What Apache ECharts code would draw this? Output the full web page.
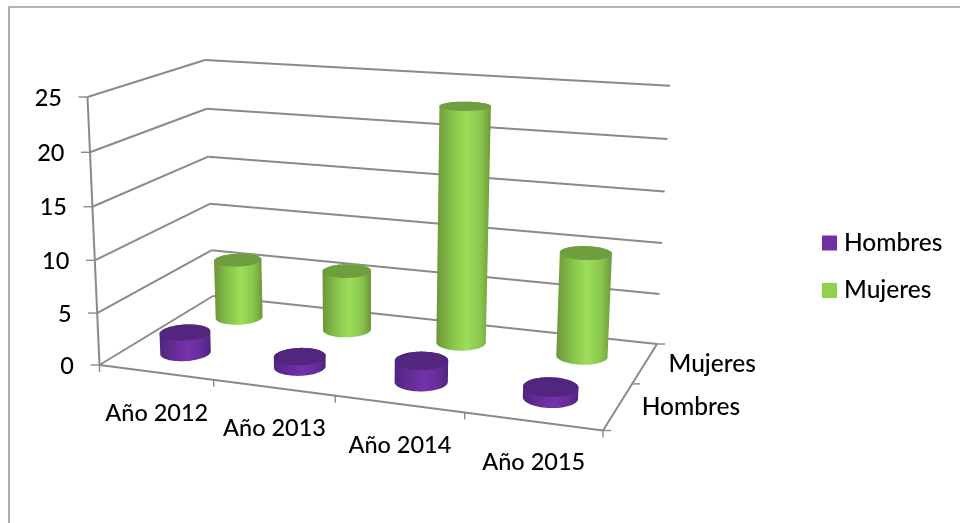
<!DOCTYPE html>
<html><head><meta charset="utf-8">
<style>html,body{margin:0;padding:0;background:#fff}#c{width:960px;height:523px}</style>
<script src="https://cdn.jsdelivr.net/npm/echarts@6/dist/echarts.min.js"></script>
</head><body><div id="c"></div>
<script>
const categories = ['Año 2012','Año 2013','Año 2014','Año 2015'];
const hombres = [2,1,2,1];
const mujeres = [6,6,23,10];
const yTicks = [0,5,10,15,20,25];
const depthLabels = ['Hombres','Mujeres'];

// Camera calibration of the 3D box (floor and ceiling corners, in order FL, FR, BR, BL)
const floorQuad = [[99.5,365],[603,430.5],[657,344],[213,296]];
const topQuad = [[87.5,97],[616,132],[670,85.7],[205,60]];
const K = 1.04, RU = 0.05, RD = 0.105;
const FONT = '500 23.5px Lato', TXT = '#000', LINE = '#8a8a8a';

function homography(q){
  const [x0,y0]=q[0],[x1,y1]=q[1],[x2,y2]=q[2],[x3,y3]=q[3];
  const dx1=x1-x2,dx2=x3-x2,sx=x0-x1+x2-x3,dy1=y1-y2,dy2=y3-y2,sy=y0-y1+y2-y3;
  const den=dx1*dy2-dx2*dy1;
  const g=(sx*dy2-dx2*sy)/den,h=(dx1*sy-sx*dy1)/den;
  const a=x1-x0+g*x1,b=x3-x0+h*x3,c=x0,d=y1-y0+g*y1,e=y3-y0+h*y3,f=y0;
  return (u,v)=>{const w=g*u+h*v+1;return [(a*u+b*v+c)/w,(d*u+e*v+f)/w];};
}
const Hf=homography(floorQuad),Ht=homography(topQuad);
function proj(u,d,h){
  const p=Hf(u,d),q=Ht(u,d),t=h/(K-(K-1)*h);
  return [p[0]+(q[0]-p[0])*t,p[1]+(q[1]-p[1])*t];
}
function hull(pts){
  const s=pts.slice().sort((a,b)=>a[0]-b[0]||a[1]-b[1]);
  const cr=(o,a,b)=>(a[0]-o[0])*(b[1]-o[1])-(a[1]-o[1])*(b[0]-o[0]);
  const lo=[],up=[];
  for(const p of s){while(lo.length>1&&cr(lo[lo.length-2],lo[lo.length-1],p)<=0)lo.pop();lo.push(p);}
  for(const p of s.slice().reverse()){while(up.length>1&&cr(up[up.length-2],up[up.length-1],p)<=0)up.pop();up.push(p);}
  return lo.slice(0,-1).concat(up.slice(0,-1));
}
const line=(a,b,w)=>({type:'line',shape:{x1:a[0],y1:a[1],x2:b[0],y2:b[1]},style:{stroke:LINE,lineWidth:w||2}});
const norm=(params,c)=>({u:(c[0]-params.coordSys.x)/params.coordSys.width,
                         h:(params.coordSys.y+params.coordSys.height-c[1])/params.coordSys.height});

function cylinderRenderer(depth,stops,cap){
  return (params,api)=>{
    const n=norm(params,api.coord([api.value(0),api.value(1)]));
    const top=[],bot=[];
    for(let i=0;i<72;i++){
      const a=i/72*Math.PI*2,u=n.u+RU*Math.cos(a),d=depth+RD*Math.sin(a);
      top.push(proj(u,d,n.h));bot.push(proj(u,d,0));
    }
    const fill=new echarts.graphic.LinearGradient(0,0,1,0,[
      {offset:0,color:stops[0]},{offset:0.3,color:stops[1]},{offset:0.55,color:stops[2]},{offset:0.82,color:stops[1]},{offset:1,color:stops[0]}]);
    return {type:'group',children:[
      {type:'polygon',shape:{points:hull(top.concat(bot))},style:{fill}},
      {type:'polygon',shape:{points:top},style:{fill:cap}}
    ]};
  };
}
const gridSeries={type:'custom',silent:true,data:yTicks.map(v=>[0,v]),
  renderItem(params,api){
    const h=norm(params,api.coord([0,api.value(1)])).h;
    const fl=proj(0,0,h),bl=proj(0,1,h),br=proj(1,1,h);
    return {type:'group',children:[
      line(fl,bl),line(bl,br),line([fl[0]-9,fl[1]],fl,1.4),
      {type:'text',style:{text:String(api.value(1)),x:fl[0]-25.5,y:fl[1]+1,align:'right',verticalAlign:'middle',font:FONT,fill:TXT}}
    ]};
  }};
const frameSeries={type:'custom',silent:true,data:[[0,0]],
  renderItem(){
    const kids=[line(proj(0,0,0),proj(0,0,1)),line(proj(0,0,0),proj(1,0,0)),line(proj(1,0,0),proj(1,1,0))];
    for(const u of [0,.25,.5,.75,1]){const p=proj(u,0,0);kids.push(line(p,[p[0],p[1]+7],1.4));}
    for(const d of [0,.5,1]){const p=proj(1,d,0);kids.push(line(p,[p[0]+8,p[1]],1.4));}
    return {type:'group',children:kids};
  }};
const catSeries={type:'custom',silent:true,data:categories.map((c,i)=>[i,0]),
  renderItem(params,api){
    const i=api.value(0),n=norm(params,api.coord([i,0])),p=proj(n.u,0,0);
    return {type:'text',style:{text:categories[params.dataIndex],x:p[0]+1,y:p[1]+41,align:'center',verticalAlign:'middle',font:FONT,fill:TXT}};
  }};
const depthSeries={type:'custom',silent:true,data:depthLabels.map((c,i)=>[0,0]),
  renderItem(params){
    const i=params.dataIndex,p=proj(1,(i+.5)/depthLabels.length,0);
    return {type:'text',style:{text:depthLabels[i],x:p[0]+23.5,y:p[1]+1,align:'left',verticalAlign:'middle',font:'500 24.5px Lato',fill:TXT}};
  }};
const chart=echarts.init(document.getElementById('c'),null,{renderer:'canvas'});
chart.setOption({
  animation:false,backgroundColor:'#fff',
  grid:{left:100,right:360,top:97,bottom:158},
  xAxis:{type:'category',data:categories,show:false},
  yAxis:{type:'value',min:0,max:25,interval:5,show:false},
  legend:{orient:'vertical',left:817,top:223,itemWidth:15,itemHeight:15,itemGap:17.5,icon:'rect',
    data:['Hombres','Mujeres'],selectedMode:false,
    textStyle:{fontFamily:'Lato',fontWeight:500,fontSize:24.5,lineHeight:30,color:TXT,padding:[0,0,0,2]}},
  graphic:[{type:'polyline',silent:true,shape:{points:[[9,523],[9,7],[960,7]]},style:{stroke:'#9a9a9a',fill:null,lineWidth:1.6}}],
  series:[gridSeries,frameSeries,
    {type:'custom',name:'Mujeres',silent:true,itemStyle:{color:'#92D050'},data:mujeres.map((v,i)=>[i,v]),
     renderItem:cylinderRenderer(.75,['#6c9638','#88c44c','#9cde58'],'#6f9e3e')},
    {type:'custom',name:'Hombres',silent:true,itemStyle:{color:'#7030A0'},data:hombres.map((v,i)=>[i,v]),
     renderItem:cylinderRenderer(.25,['#4f2580','#652c98','#7532ab'],'#52267f')},
    catSeries,depthSeries]
});
</script></body></html>
